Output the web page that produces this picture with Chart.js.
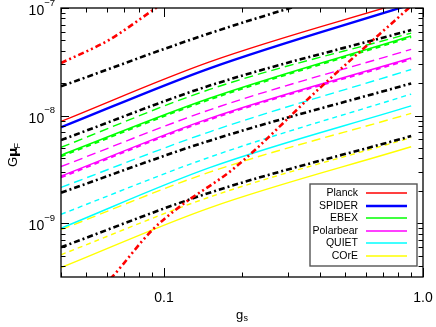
<!DOCTYPE html>
<html>
<head>
<meta charset="utf-8">
<script src="https://cdn.jsdelivr.net/npm/chart.js@4/dist/chart.umd.min.js"></script>
<style>
  html, body { margin: 0; padding: 0; background: #fff; }
  #wrap { width: 436px; height: 327px; }
</style>
</head>
<body>
<div id="wrap"><canvas id="chart"></canvas></div>
<script>
const gsRead = [0.04, 0.15, 0.9];

// G mu_F, solid curves (one per experiment)
const planck = [8.83e-9, 3.16e-8, 1.19e-7];
const spider = [7.78e-9, 2.75e-8, 1.08e-7];
const ebex = [4.29e-9, 1.45e-8, 5.49e-8];
const polarbear = [2.74e-9, 9.42e-9, 3.43e-8];
const quiet = [8.98e-10, 3.28e-9, 1.23e-8];
const core = [3.87e-10, 1.39e-9, 5.13e-9];

// long dashed companions
const ebexDash = [5.07e-9, 1.75e-8, 5.85e-8];
const polarbearDash = [3.36e-9, 1.13e-8, 4.13e-8];
const quietDash = [2.15e-9, 7.07e-9, 2.68e-8];
const coreDash = [8.71e-10, 2.98e-9, 1.05e-8];

// short dashed companions
const ebexShort = [4.18e-9, 1.41e-8, 5.36e-8];
const polarbearShort = [2.67e-9, 9.2e-9, 3.35e-8];
const quietShort = [1.21e-9, 4.11e-9, 1.585e-8];
const coreShort = [5.09e-10, 1.75e-9, 6.24e-9];

// black dash-dot curves
const bound1 = [1.87e-8, 5.82e-8, 2.16e-7];
const bound2 = [5.92e-9, 1.9e-8, 6.24e-8];
const bound3 = [1.92e-9, 5.85e-9, 1.99e-8];
const bound4 = [5.98e-10, 1.92e-9, 6.45e-9];

// red dash-dot-dot curves
const steepAx = [0.04, 0.0612, 0.0931, 0.15];
const steepA = [3.08e-8, 5.04e-8, 1.0e-7, 2.16e-7];
const steepBx = [0.055, 0.0629, 0.0899, 0.1143, 0.1867, 0.399, 0.89];
const steepB = [2.28e-10, 3.15e-10, 8.61e-10, 1.41e-9, 3.25e-9, 1.8e-8, 1.02e-7];

// axis ticks
const xTickVals = [0.04, 0.05, 0.06, 0.07, 0.08, 0.09, 0.1, 0.2, 0.3, 0.4, 0.5, 0.6, 0.7, 0.8, 0.9, 1.0];
const xLabels = [[0.1, "0.1"], [1.0, "1.0"]];
const yTickVals = [4e-10, 5e-10, 6e-10, 7e-10, 8e-10, 9e-10, 1e-9, 2e-9, 3e-9, 4e-9, 5e-9, 6e-9, 7e-9, 8e-9, 9e-9,
  1e-8, 2e-8, 3e-8, 4e-8, 5e-8, 6e-8, 7e-8, 8e-8, 9e-8, 1e-7];
const yLabels = [[1e-9, "\u22129"], [1e-8, "\u22128"], [1e-7, "\u22127"]];

// legend
const legendNames = ["Planck", "SPIDER", "EBEX", "Polarbear", "QUIET", "COrE"];
const legendColors = ["#ff0000", "#0000ff", "#00ff00", "#ff00ff", "#00ffff", "#ffff00"];
const legendWidths = [1.6, 2.6, 1.6, 1.6, 1.6, 1.6];

const LONG = [9, 5];
const SHORT = [5, 4];
const DASHDOT = [6, 3, 2, 3];
const DASHDOTDOT = [6, 3, 2, 3, 2, 3];

function curve(label, xs, ys, color, width, dash, order) {
  return {
    label: label,
    data: xs.map((x, i) => ({ x: x, y: ys[i] })),
    borderColor: color,
    borderWidth: width,
    borderDash: dash,
    pointRadius: 0,
    fill: false,
    cubicInterpolationMode: "monotone",
    order: order,
  };
}

const datasets = [
  curve("Planck", gsRead, planck, "#ff0000", 1.4, [], 3),
  curve("SPIDER", gsRead, spider, "#0000ff", 2.4, [], 3),
  curve("EBEX", gsRead, ebex, "#00ff00", 1.4, [], 3),
  curve("EBEX dash", gsRead, ebexDash, "#00ff00", 1.4, LONG, 3),
  curve("EBEX short", gsRead, ebexShort, "#00ff00", 2, SHORT, 3),
  curve("Polarbear", gsRead, polarbear, "#ff00ff", 1.4, [], 3),
  curve("Polarbear dash", gsRead, polarbearDash, "#ff00ff", 1.4, LONG, 3),
  curve("Polarbear short", gsRead, polarbearShort, "#ff00ff", 2, SHORT, 3),
  curve("QUIET", gsRead, quiet, "#00ffff", 1.4, [], 3),
  curve("QUIET dash", gsRead, quietDash, "#00ffff", 1.4, LONG, 3),
  curve("QUIET short", gsRead, quietShort, "#00ffff", 1.4, SHORT, 3),
  curve("COrE", gsRead, core, "#ffff00", 1.4, [], 3),
  curve("COrE dash", gsRead, coreDash, "#ffff00", 1.4, LONG, 3),
  curve("COrE short", gsRead, coreShort, "#ffff00", 1.4, SHORT, 3),
  curve("bound 1", gsRead, bound1, "#000000", 2.6, DASHDOT, 2),
  curve("bound 2", gsRead, bound2, "#000000", 2.6, DASHDOT, 2),
  curve("bound 3", gsRead, bound3, "#000000", 2.6, DASHDOT, 2),
  curve("bound 4", gsRead, bound4, "#000000", 2.6, DASHDOT, 2),
  curve("steep A", steepAx, steepA, "#ff0000", 2.6, DASHDOTDOT, 1),
  curve("steep B", steepBx, steepB, "#ff0000", 2.6, DASHDOTDOT, 1),
];

const FONT = "'Liberation Sans', Arial, sans-serif";

// frame with inward ticks, tick labels, axis titles and the boxed legend
const decorations = {
  id: "decorations",
  afterDatasetsDraw(chart) {
    const { ctx, chartArea: a, scales } = chart;
    const x = scales.x, y = scales.y;
    const xMajor = xLabels.map(l => l[0]);
    const yMajor = yLabels.map(l => l[0]);
    ctx.save();
    ctx.strokeStyle = "#000";
    ctx.lineWidth = 1;
    ctx.setLineDash([]);
    ctx.beginPath();
    xTickVals.forEach(v => {
      const px = Math.round(x.getPixelForValue(v)) + 0.5;
      const len = xMajor.includes(v) ? 9 : 4.5;
      ctx.moveTo(px, a.bottom); ctx.lineTo(px, a.bottom - len);
      ctx.moveTo(px, a.top); ctx.lineTo(px, a.top + len);
    });
    yTickVals.forEach(v => {
      const py = Math.round(y.getPixelForValue(v)) + 0.5;
      const len = yMajor.includes(v) ? 8 : 4.5;
      ctx.moveTo(a.left, py); ctx.lineTo(a.left + len, py);
      ctx.moveTo(a.right, py); ctx.lineTo(a.right - len, py);
    });
    ctx.stroke();
    ctx.lineWidth = 1.3;
    ctx.strokeRect(a.left, a.top, a.right - a.left, a.bottom - a.top);

    // tick labels
    ctx.fillStyle = "#000";
    ctx.textBaseline = "alphabetic";
    ctx.font = "14px " + FONT;
    ctx.textAlign = "center";
    xLabels.forEach(([v, t]) => {
      ctx.fillText(t, x.getPixelForValue(v), a.bottom + 24.5);
    });
    ctx.textAlign = "right";
    yLabels.forEach(([v, t]) => {
      const py = y.getPixelForValue(v);
      ctx.font = "9.5px " + FONT;
      const sw = ctx.measureText(t).width;
      ctx.fillText(t, a.left - 6, py - 2.5);
      ctx.font = "14px " + FONT;
      ctx.fillText("10", a.left - 6 - sw, py + 7);
    });

    // legend box
    const bx = 310, by = 184, bw = 107, bh = 82;
    ctx.fillStyle = "#fff";
    ctx.fillRect(bx, by, bw, bh);
    ctx.strokeStyle = "#555";
    ctx.lineWidth = 1.4;
    ctx.strokeRect(bx, by, bw, bh);
    ctx.font = "10.5px " + FONT;
    ctx.textAlign = "right";
    ctx.textBaseline = "middle";
    legendNames.forEach((name, i) => {
      const ry = Math.round(193 + i * 12.6);
      ctx.fillStyle = "#000";
      ctx.fillText(name, 358, ry + 0.5);
      ctx.strokeStyle = legendColors[i];
      ctx.lineWidth = legendWidths[i];
      ctx.beginPath();
      ctx.moveTo(366, ry); ctx.lineTo(407, ry);
      ctx.stroke();
    });

    // x title: g_s
    ctx.fillStyle = "#000";
    ctx.textAlign = "left";
    ctx.textBaseline = "alphabetic";
    ctx.font = "13px " + FONT;
    ctx.fillText("g", 236, 319);
    ctx.font = "9px " + FONT;
    ctx.fillText("s", 243.5, 321);

    // y title: G mu_F (rotated)
    ctx.translate(17, 167);
    ctx.rotate(-Math.PI / 2);
    ctx.font = "13px " + FONT;
    ctx.fillText("G", 0, 0);
    ctx.font = "bold 13px 'DejaVu Sans', " + FONT;
    ctx.fillText("\u03BC", 10, 0);
    ctx.font = "9px " + FONT;
    ctx.fillText("F", 18.5, 3);
    ctx.restore();
  },
};

new Chart(document.getElementById("chart"), {
  type: "line",
  data: { datasets: datasets },
  options: {
    responsive: true,
    maintainAspectRatio: false,
    animation: false,
    layout: { padding: { top: 8, right: 13, left: 0, bottom: 0 } },
    plugins: { legend: { display: false }, tooltip: { enabled: false } },
    scales: {
      x: {
        type: "logarithmic",
        min: 0.04,
        max: 1.0,
        grid: { display: false, drawTicks: false, tickLength: 0 },
        border: { display: false },
        ticks: { display: false },
        afterFit: s => { s.height = 50; },
      },
      y: {
        type: "logarithmic",
        min: 3.162e-10,
        max: 1e-7,
        grid: { display: false, drawTicks: false, tickLength: 0 },
        border: { display: false },
        ticks: { display: false },
        afterFit: s => { s.width = 61; },
      },
    },
  },
  plugins: [decorations],
});
</script>
</body>
</html>
